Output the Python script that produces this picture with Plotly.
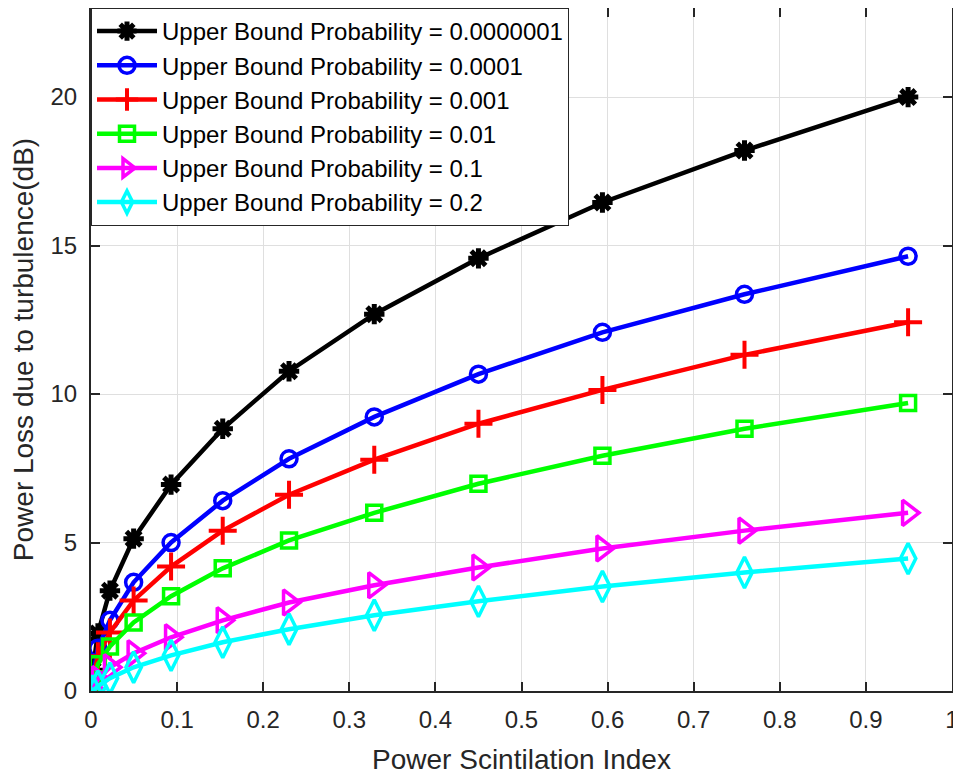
import plotly.graph_objects as go

x_vals = [0.002, 0.008, 0.022, 0.0495, 0.093, 0.153, 0.230, 0.329, 0.450, 0.594, 0.759, 0.949]

names = [
    "Upper Bound Probability = 0.0000001",
    "Upper Bound Probability = 0.0001",
    "Upper Bound Probability = 0.001",
    "Upper Bound Probability = 0.01",
    "Upper Bound Probability = 0.1",
    "Upper Bound Probability = 0.2",
]

y_p1e7 = [0.70, 1.94, 3.38, 5.13, 6.95, 8.83, 10.77, 12.69, 14.57, 16.45, 18.20, 20.00]
y_p1e4 = [0.50, 1.44, 2.38, 3.66, 5.00, 6.41, 7.82, 9.23, 10.67, 12.08, 13.36, 14.64]
y_p1e3 = [0.36, 1.17, 1.97, 3.05, 4.19, 5.40, 6.61, 7.79, 9.00, 10.14, 11.32, 12.42]
y_p1e2 = [0.23, 0.90, 1.50, 2.31, 3.19, 4.13, 5.07, 6.00, 6.98, 7.92, 8.83, 9.70]
y_p1e1 = [0.05, 0.40, 0.80, 1.27, 1.81, 2.38, 2.98, 3.56, 4.16, 4.80, 5.40, 6.00]
y_p2e1 = [0.00, 0.16, 0.43, 0.80, 1.20, 1.64, 2.08, 2.55, 3.02, 3.52, 3.99, 4.46]

x_ticks = [0, 0.1, 0.2, 0.3, 0.4, 0.5, 0.6, 0.7, 0.8, 0.9, 1]
x_tick_text = ["0", "0.1", "0.2", "0.3", "0.4", "0.5", "0.6", "0.7", "0.8", "0.9", "1"]
y_ticks = [0, 5, 10, 15, 20]

series = [y_p1e7, y_p1e4, y_p1e3, y_p1e2, y_p1e1, y_p2e1]
colors = ["#000000", "#0000FF", "#FF0000", "#00FF00", "#FF00FF", "#00FFFF"]
symbols = ["asterisk-open", "circle-open", "cross-thin-open", "square-open",
           "triangle-right-open", "diamond-tall-open"]
sizes = [17, 16, 20, 15, 22, 22]
mlw = [5, 3.5, 4, 3.5, 3.5, 3.5]

fig = go.Figure()
for i, (nm, ys, c, s, sz, lw) in enumerate(zip(names, series, colors, symbols, sizes, mlw)):
    fig.add_trace(go.Scatter(
        x=x_vals, y=ys, name=nm, mode="lines+markers",
        legendgroup=f"g{i}",
        line=dict(color=c, width=4.5),
        marker=dict(symbol=s, size=sz, color=c, line=dict(color=c, width=lw)),
    ))

axis_common = dict(
    showline=True, linecolor="#262626", linewidth=2, mirror="ticks",
    ticks="inside", ticklen=9, tickwidth=2, tickcolor="#262626",
    showgrid=True, gridcolor="#DFDFDF", gridwidth=1, zeroline=False,
    automargin=False, ticklabeloverflow="allow",
    tickfont=dict(family="Liberation Sans", size=24, color="#262626"),
)

fig.update_layout(
    width=953, height=768,
    margin=dict(l=83, r=9, t=0, b=85),
    plot_bgcolor="white", paper_bgcolor="white",
    font=dict(family="Liberation Sans", color="#262626"),
    xaxis=dict(range=[0, 1], tickvals=x_ticks, ticktext=x_tick_text,
               ticklabelstandoff=6,
               title=dict(text="Power Scintilation Index", font=dict(size=28), standoff=18),
               **axis_common),
    yaxis=dict(range=[0, 23], tickvals=y_ticks, ticklabelstandoff=7,
               title=dict(text="Power Loss due to turbulence(dB)", font=dict(size=28), standoff=9),
               **axis_common),
    legend=dict(x=0, y=1, xanchor="left", yanchor="top",
                bgcolor="white", bordercolor="#262626", borderwidth=1,
                font=dict(family="Liberation Sans", size=24, color="#000000"),
                itemwidth=60, tracegroupgap=0),
    showlegend=True,
)

fig.write_html("out.html")
